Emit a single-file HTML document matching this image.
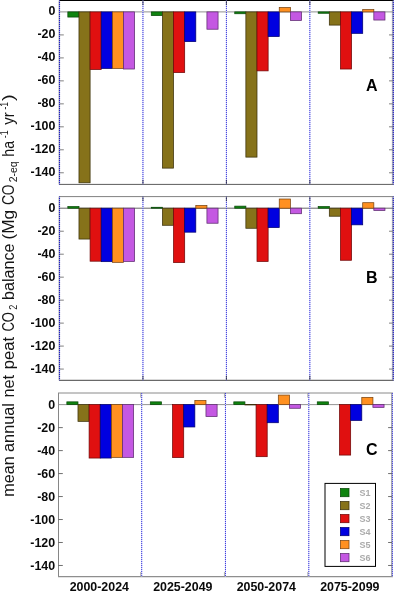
<!DOCTYPE html>
<html lang="en"><head><meta charset="utf-8"><title>Mean annual net peat CO2 balance</title>
<style>html,body{margin:0;padding:0;background:#fff}body{width:394px;height:591px;overflow:hidden}svg{display:block;will-change:transform}text{font-family:"Liberation Sans",Arial,sans-serif}</style>
</head><body>
<svg width="394" height="591" viewBox="0 0 394 591">
<rect width="394" height="591" fill="#fff"/>
<g id="panelA">
<line x1="59.1" x2="59.1" y1="0.5" y2="184.4" stroke="#a8a8a8" stroke-width="1"/>
<line x1="392.40" x2="392.40" y1="0.5" y2="184.4" stroke="#a8a8a8" stroke-width="1"/>
<line x1="59.0" x2="393.8" y1="0.5" y2="0.5" stroke="#000" stroke-width="1"/>
<line x1="59.0" x2="393.8" y1="184.4" y2="184.4" stroke="#5c5c5c" stroke-width="1"/>
<line x1="59.5" x2="393.3" y1="11.9" y2="11.9" stroke="#858585" stroke-width="0.9"/>
<text x="55.4" y="15.45" font-size="12.4" font-weight="bold" text-anchor="end" fill="#0a0a0a">0</text>
<line x1="59.5" x2="63.8" y1="34.92" y2="34.92" stroke="#6c6c6c" stroke-width="0.85"/>
<line x1="389.0" x2="393.3" y1="34.92" y2="34.92" stroke="#6c6c6c" stroke-width="0.85"/>
<text x="55.4" y="38.42" font-size="12.4" font-weight="bold" text-anchor="end" fill="#0a0a0a">-20</text>
<line x1="59.5" x2="63.8" y1="57.90" y2="57.90" stroke="#6c6c6c" stroke-width="0.85"/>
<line x1="389.0" x2="393.3" y1="57.90" y2="57.90" stroke="#6c6c6c" stroke-width="0.85"/>
<text x="55.4" y="61.40" font-size="12.4" font-weight="bold" text-anchor="end" fill="#0a0a0a">-40</text>
<line x1="59.5" x2="63.8" y1="80.87" y2="80.87" stroke="#6c6c6c" stroke-width="0.85"/>
<line x1="389.0" x2="393.3" y1="80.87" y2="80.87" stroke="#6c6c6c" stroke-width="0.85"/>
<text x="55.4" y="84.37" font-size="12.4" font-weight="bold" text-anchor="end" fill="#0a0a0a">-60</text>
<line x1="59.5" x2="63.8" y1="103.85" y2="103.85" stroke="#6c6c6c" stroke-width="0.85"/>
<line x1="389.0" x2="393.3" y1="103.85" y2="103.85" stroke="#6c6c6c" stroke-width="0.85"/>
<text x="55.4" y="107.35" font-size="12.4" font-weight="bold" text-anchor="end" fill="#0a0a0a">-80</text>
<line x1="59.5" x2="63.8" y1="126.82" y2="126.82" stroke="#6c6c6c" stroke-width="0.85"/>
<line x1="389.0" x2="393.3" y1="126.82" y2="126.82" stroke="#6c6c6c" stroke-width="0.85"/>
<text x="55.4" y="130.32" font-size="12.4" font-weight="bold" text-anchor="end" fill="#0a0a0a">-100</text>
<line x1="59.5" x2="63.8" y1="149.79" y2="149.79" stroke="#6c6c6c" stroke-width="0.85"/>
<line x1="389.0" x2="393.3" y1="149.79" y2="149.79" stroke="#6c6c6c" stroke-width="0.85"/>
<text x="55.4" y="153.29" font-size="12.4" font-weight="bold" text-anchor="end" fill="#0a0a0a">-120</text>
<line x1="59.5" x2="63.8" y1="172.77" y2="172.77" stroke="#6c6c6c" stroke-width="0.85"/>
<line x1="389.0" x2="393.3" y1="172.77" y2="172.77" stroke="#6c6c6c" stroke-width="0.85"/>
<text x="55.4" y="176.27" font-size="12.4" font-weight="bold" text-anchor="end" fill="#0a0a0a">-140</text>
<line x1="59.50" x2="59.50" y1="0.5" y2="184.4" stroke="#9c9cc4" stroke-width="1.1"/>
<line x1="59.50" x2="59.50" y1="0.5" y2="184.4" stroke="#1c1cc8" stroke-width="1.1" stroke-dasharray="1 1" stroke-dashoffset="0.50"/>
<line x1="142.95" x2="142.95" y1="0.5" y2="184.4" stroke="#d0d0fb" stroke-width="1.0"/>
<line x1="142.95" x2="142.95" y1="0.5" y2="184.4" stroke="#3838da" stroke-width="1.0" stroke-dasharray="1 1" stroke-dashoffset="0.50"/>
<line x1="226.40" x2="226.40" y1="0.5" y2="184.4" stroke="#d0d0fb" stroke-width="1.0"/>
<line x1="226.40" x2="226.40" y1="0.5" y2="184.4" stroke="#3838da" stroke-width="1.0" stroke-dasharray="1 1" stroke-dashoffset="0.50"/>
<line x1="309.85" x2="309.85" y1="0.5" y2="184.4" stroke="#d0d0fb" stroke-width="1.0"/>
<line x1="309.85" x2="309.85" y1="0.5" y2="184.4" stroke="#3838da" stroke-width="1.0" stroke-dasharray="1 1" stroke-dashoffset="0.50"/>
<line x1="393.30" x2="393.30" y1="0.5" y2="184.4" stroke="#9c9cc4" stroke-width="1.1"/>
<line x1="393.30" x2="393.30" y1="0.5" y2="184.4" stroke="#1c1cc8" stroke-width="1.1" stroke-dasharray="1 1" stroke-dashoffset="0.50"/>
<line x1="142.95" x2="142.95" y1="0.5" y2="5.1" stroke="#222" stroke-width="0.7"/>
<line x1="142.95" x2="142.95" y1="179.8" y2="184.4" stroke="#222" stroke-width="0.7"/>
<line x1="226.40" x2="226.40" y1="0.5" y2="5.1" stroke="#222" stroke-width="0.7"/>
<line x1="226.40" x2="226.40" y1="179.8" y2="184.4" stroke="#222" stroke-width="0.7"/>
<line x1="309.85" x2="309.85" y1="0.5" y2="5.1" stroke="#222" stroke-width="0.7"/>
<line x1="309.85" x2="309.85" y1="179.8" y2="184.4" stroke="#222" stroke-width="0.7"/>
<rect x="67.84" y="11.90" width="11.13" height="5.16" fill="#0f840f" stroke="#0a4a0a" stroke-width="0.75"/>
<rect x="78.97" y="11.90" width="11.13" height="170.90" fill="#86721a" stroke="#3c320c" stroke-width="0.75"/>
<rect x="90.10" y="11.90" width="11.13" height="57.58" fill="#e01010" stroke="#700808" stroke-width="0.75"/>
<rect x="101.22" y="11.90" width="11.13" height="56.55" fill="#0000e0" stroke="#000070" stroke-width="0.75"/>
<rect x="112.35" y="11.90" width="11.13" height="56.55" fill="#ff9020" stroke="#7a4410" stroke-width="0.75"/>
<rect x="123.48" y="11.90" width="11.13" height="57.12" fill="#c458e2" stroke="#5e2c70" stroke-width="0.75"/>
<rect x="151.29" y="11.90" width="11.13" height="3.67" fill="#0f840f" stroke="#0a4a0a" stroke-width="0.75"/>
<rect x="162.42" y="11.90" width="11.13" height="156.22" fill="#86721a" stroke="#3c320c" stroke-width="0.75"/>
<rect x="173.55" y="11.90" width="11.13" height="60.68" fill="#e01010" stroke="#700808" stroke-width="0.75"/>
<rect x="184.67" y="11.90" width="11.13" height="29.71" fill="#0000e0" stroke="#000070" stroke-width="0.75"/>
<rect x="206.93" y="11.90" width="11.13" height="17.32" fill="#c458e2" stroke="#5e2c70" stroke-width="0.75"/>
<rect x="234.75" y="11.90" width="11.13" height="1.84" fill="#0f840f" stroke="#0a4a0a" stroke-width="0.75"/>
<rect x="245.87" y="11.90" width="11.13" height="145.21" fill="#86721a" stroke="#3c320c" stroke-width="0.75"/>
<rect x="257.00" y="11.90" width="11.13" height="58.96" fill="#e01010" stroke="#700808" stroke-width="0.75"/>
<rect x="268.12" y="11.90" width="11.13" height="24.66" fill="#0000e0" stroke="#000070" stroke-width="0.75"/>
<rect x="279.25" y="7.54" width="11.13" height="4.36" fill="#ff9020" stroke="#7a4410" stroke-width="0.75"/>
<rect x="290.38" y="11.90" width="11.13" height="8.60" fill="#c458e2" stroke="#5e2c70" stroke-width="0.75"/>
<rect x="318.20" y="11.90" width="11.13" height="1.38" fill="#0f840f" stroke="#0a4a0a" stroke-width="0.75"/>
<rect x="329.32" y="11.90" width="11.13" height="13.19" fill="#86721a" stroke="#3c320c" stroke-width="0.75"/>
<rect x="340.45" y="11.90" width="11.13" height="57.12" fill="#e01010" stroke="#700808" stroke-width="0.75"/>
<rect x="351.58" y="11.90" width="11.13" height="21.45" fill="#0000e0" stroke="#000070" stroke-width="0.75"/>
<rect x="362.70" y="9.61" width="11.13" height="2.29" fill="#ff9020" stroke="#7a4410" stroke-width="0.75"/>
<rect x="373.83" y="11.90" width="11.13" height="8.14" fill="#c458e2" stroke="#5e2c70" stroke-width="0.75"/>
</g>
<g id="panelB">
<line x1="59.1" x2="59.1" y1="196.6" y2="380.3" stroke="#a8a8a8" stroke-width="1"/>
<line x1="392.40" x2="392.40" y1="196.6" y2="380.3" stroke="#a8a8a8" stroke-width="1"/>
<line x1="59.0" x2="393.8" y1="196.6" y2="196.6" stroke="#808080" stroke-width="1"/>
<line x1="59.0" x2="393.8" y1="380.3" y2="380.3" stroke="#444" stroke-width="1"/>
<line x1="59.5" x2="393.3" y1="208.2" y2="208.2" stroke="#555" stroke-width="0.9"/>
<text x="55.4" y="211.75" font-size="12.4" font-weight="bold" text-anchor="end" fill="#0a0a0a">0</text>
<line x1="59.5" x2="63.8" y1="231.22" y2="231.22" stroke="#6c6c6c" stroke-width="0.85"/>
<line x1="389.0" x2="393.3" y1="231.22" y2="231.22" stroke="#6c6c6c" stroke-width="0.85"/>
<text x="55.4" y="234.72" font-size="12.4" font-weight="bold" text-anchor="end" fill="#0a0a0a">-20</text>
<line x1="59.5" x2="63.8" y1="254.20" y2="254.20" stroke="#6c6c6c" stroke-width="0.85"/>
<line x1="389.0" x2="393.3" y1="254.20" y2="254.20" stroke="#6c6c6c" stroke-width="0.85"/>
<text x="55.4" y="257.70" font-size="12.4" font-weight="bold" text-anchor="end" fill="#0a0a0a">-40</text>
<line x1="59.5" x2="63.8" y1="277.17" y2="277.17" stroke="#6c6c6c" stroke-width="0.85"/>
<line x1="389.0" x2="393.3" y1="277.17" y2="277.17" stroke="#6c6c6c" stroke-width="0.85"/>
<text x="55.4" y="280.67" font-size="12.4" font-weight="bold" text-anchor="end" fill="#0a0a0a">-60</text>
<line x1="59.5" x2="63.8" y1="300.15" y2="300.15" stroke="#6c6c6c" stroke-width="0.85"/>
<line x1="389.0" x2="393.3" y1="300.15" y2="300.15" stroke="#6c6c6c" stroke-width="0.85"/>
<text x="55.4" y="303.65" font-size="12.4" font-weight="bold" text-anchor="end" fill="#0a0a0a">-80</text>
<line x1="59.5" x2="63.8" y1="323.12" y2="323.12" stroke="#6c6c6c" stroke-width="0.85"/>
<line x1="389.0" x2="393.3" y1="323.12" y2="323.12" stroke="#6c6c6c" stroke-width="0.85"/>
<text x="55.4" y="326.62" font-size="12.4" font-weight="bold" text-anchor="end" fill="#0a0a0a">-100</text>
<line x1="59.5" x2="63.8" y1="346.09" y2="346.09" stroke="#6c6c6c" stroke-width="0.85"/>
<line x1="389.0" x2="393.3" y1="346.09" y2="346.09" stroke="#6c6c6c" stroke-width="0.85"/>
<text x="55.4" y="349.59" font-size="12.4" font-weight="bold" text-anchor="end" fill="#0a0a0a">-120</text>
<line x1="59.5" x2="63.8" y1="369.07" y2="369.07" stroke="#6c6c6c" stroke-width="0.85"/>
<line x1="389.0" x2="393.3" y1="369.07" y2="369.07" stroke="#6c6c6c" stroke-width="0.85"/>
<text x="55.4" y="372.57" font-size="12.4" font-weight="bold" text-anchor="end" fill="#0a0a0a">-140</text>
<line x1="59.50" x2="59.50" y1="196.6" y2="380.3" stroke="#9c9cc4" stroke-width="1.1"/>
<line x1="59.50" x2="59.50" y1="196.6" y2="380.3" stroke="#1c1cc8" stroke-width="1.1" stroke-dasharray="1 1" stroke-dashoffset="0.60"/>
<line x1="142.95" x2="142.95" y1="196.6" y2="380.3" stroke="#d0d0fb" stroke-width="1.0"/>
<line x1="142.95" x2="142.95" y1="196.6" y2="380.3" stroke="#3838da" stroke-width="1.0" stroke-dasharray="1 1" stroke-dashoffset="0.60"/>
<line x1="226.40" x2="226.40" y1="196.6" y2="380.3" stroke="#d0d0fb" stroke-width="1.0"/>
<line x1="226.40" x2="226.40" y1="196.6" y2="380.3" stroke="#3838da" stroke-width="1.0" stroke-dasharray="1 1" stroke-dashoffset="0.60"/>
<line x1="309.85" x2="309.85" y1="196.6" y2="380.3" stroke="#d0d0fb" stroke-width="1.0"/>
<line x1="309.85" x2="309.85" y1="196.6" y2="380.3" stroke="#3838da" stroke-width="1.0" stroke-dasharray="1 1" stroke-dashoffset="0.60"/>
<line x1="393.30" x2="393.30" y1="196.6" y2="380.3" stroke="#9c9cc4" stroke-width="1.1"/>
<line x1="393.30" x2="393.30" y1="196.6" y2="380.3" stroke="#1c1cc8" stroke-width="1.1" stroke-dasharray="1 1" stroke-dashoffset="0.60"/>
<line x1="142.95" x2="142.95" y1="196.6" y2="201.2" stroke="#222" stroke-width="0.7"/>
<line x1="142.95" x2="142.95" y1="375.7" y2="380.3" stroke="#222" stroke-width="0.7"/>
<line x1="226.40" x2="226.40" y1="196.6" y2="201.2" stroke="#222" stroke-width="0.7"/>
<line x1="226.40" x2="226.40" y1="375.7" y2="380.3" stroke="#222" stroke-width="0.7"/>
<line x1="309.85" x2="309.85" y1="196.6" y2="201.2" stroke="#222" stroke-width="0.7"/>
<line x1="309.85" x2="309.85" y1="375.7" y2="380.3" stroke="#222" stroke-width="0.7"/>
<rect x="67.84" y="206.59" width="11.13" height="1.61" fill="#0f840f" stroke="#0a4a0a" stroke-width="0.75"/>
<rect x="78.97" y="208.20" width="11.13" height="30.85" fill="#86721a" stroke="#3c320c" stroke-width="0.75"/>
<rect x="90.10" y="208.20" width="11.13" height="52.99" fill="#e01010" stroke="#700808" stroke-width="0.75"/>
<rect x="101.22" y="208.20" width="11.13" height="53.45" fill="#0000e0" stroke="#000070" stroke-width="0.75"/>
<rect x="112.35" y="208.20" width="11.13" height="54.14" fill="#ff9020" stroke="#7a4410" stroke-width="0.75"/>
<rect x="123.48" y="208.20" width="11.13" height="53.22" fill="#c458e2" stroke="#5e2c70" stroke-width="0.75"/>
<rect x="151.29" y="207.28" width="11.13" height="0.92" fill="#0f840f" stroke="#0a4a0a" stroke-width="0.75"/>
<rect x="162.42" y="208.20" width="11.13" height="17.09" fill="#86721a" stroke="#3c320c" stroke-width="0.75"/>
<rect x="173.55" y="208.20" width="11.13" height="54.37" fill="#e01010" stroke="#700808" stroke-width="0.75"/>
<rect x="184.67" y="208.20" width="11.13" height="23.97" fill="#0000e0" stroke="#000070" stroke-width="0.75"/>
<rect x="195.80" y="205.45" width="11.13" height="2.75" fill="#ff9020" stroke="#7a4410" stroke-width="0.75"/>
<rect x="206.93" y="208.20" width="11.13" height="15.03" fill="#c458e2" stroke="#5e2c70" stroke-width="0.75"/>
<rect x="234.75" y="206.14" width="11.13" height="2.06" fill="#0f840f" stroke="#0a4a0a" stroke-width="0.75"/>
<rect x="245.87" y="208.20" width="11.13" height="20.07" fill="#86721a" stroke="#3c320c" stroke-width="0.75"/>
<rect x="257.00" y="208.20" width="11.13" height="53.22" fill="#e01010" stroke="#700808" stroke-width="0.75"/>
<rect x="268.12" y="208.20" width="11.13" height="19.38" fill="#0000e0" stroke="#000070" stroke-width="0.75"/>
<rect x="279.25" y="199.02" width="11.13" height="9.18" fill="#ff9020" stroke="#7a4410" stroke-width="0.75"/>
<rect x="290.38" y="208.20" width="11.13" height="5.51" fill="#c458e2" stroke="#5e2c70" stroke-width="0.75"/>
<rect x="318.20" y="206.59" width="11.13" height="1.61" fill="#0f840f" stroke="#0a4a0a" stroke-width="0.75"/>
<rect x="329.32" y="208.20" width="11.13" height="8.03" fill="#86721a" stroke="#3c320c" stroke-width="0.75"/>
<rect x="340.45" y="208.20" width="11.13" height="52.07" fill="#e01010" stroke="#700808" stroke-width="0.75"/>
<rect x="351.58" y="208.20" width="11.13" height="16.63" fill="#0000e0" stroke="#000070" stroke-width="0.75"/>
<rect x="362.70" y="202.69" width="11.13" height="5.51" fill="#ff9020" stroke="#7a4410" stroke-width="0.75"/>
<rect x="373.83" y="208.20" width="11.13" height="2.29" fill="#c458e2" stroke="#5e2c70" stroke-width="0.75"/>
</g>
<g id="panelC">
<line x1="58.5" x2="58.5" y1="393.0" y2="576.6" stroke="#868686" stroke-width="1"/>
<line x1="391.80" x2="391.80" y1="393.0" y2="576.6" stroke="#868686" stroke-width="1"/>
<line x1="58.0" x2="392.9" y1="393.0" y2="393.0" stroke="#8a8a8a" stroke-width="1"/>
<line x1="58.0" x2="392.9" y1="576.6" y2="576.6" stroke="#8e8e8e" stroke-width="1.25"/>
<line x1="58.5" x2="392.4" y1="404.6" y2="404.6" stroke="#888" stroke-width="0.9"/>
<text x="55.1" y="409.05" font-size="12.4" font-weight="bold" text-anchor="end" fill="#0a0a0a">0</text>
<line x1="58.5" x2="62.8" y1="427.62" y2="427.62" stroke="#555" stroke-width="0.85"/>
<line x1="388.10" x2="392.4" y1="427.62" y2="427.62" stroke="#555" stroke-width="0.85"/>
<text x="55.1" y="432.02" font-size="12.4" font-weight="bold" text-anchor="end" fill="#0a0a0a">-20</text>
<line x1="58.5" x2="62.8" y1="450.60" y2="450.60" stroke="#555" stroke-width="0.85"/>
<line x1="388.10" x2="392.4" y1="450.60" y2="450.60" stroke="#555" stroke-width="0.85"/>
<text x="55.1" y="455.00" font-size="12.4" font-weight="bold" text-anchor="end" fill="#0a0a0a">-40</text>
<line x1="58.5" x2="62.8" y1="473.57" y2="473.57" stroke="#555" stroke-width="0.85"/>
<line x1="388.10" x2="392.4" y1="473.57" y2="473.57" stroke="#555" stroke-width="0.85"/>
<text x="55.1" y="477.97" font-size="12.4" font-weight="bold" text-anchor="end" fill="#0a0a0a">-60</text>
<line x1="58.5" x2="62.8" y1="496.55" y2="496.55" stroke="#555" stroke-width="0.85"/>
<line x1="388.10" x2="392.4" y1="496.55" y2="496.55" stroke="#555" stroke-width="0.85"/>
<text x="55.1" y="500.95" font-size="12.4" font-weight="bold" text-anchor="end" fill="#0a0a0a">-80</text>
<line x1="58.5" x2="62.8" y1="519.52" y2="519.52" stroke="#555" stroke-width="0.85"/>
<line x1="388.10" x2="392.4" y1="519.52" y2="519.52" stroke="#555" stroke-width="0.85"/>
<text x="55.1" y="523.92" font-size="12.4" font-weight="bold" text-anchor="end" fill="#0a0a0a">-100</text>
<line x1="58.5" x2="62.8" y1="542.49" y2="542.49" stroke="#555" stroke-width="0.85"/>
<line x1="388.10" x2="392.4" y1="542.49" y2="542.49" stroke="#555" stroke-width="0.85"/>
<text x="55.1" y="546.89" font-size="12.4" font-weight="bold" text-anchor="end" fill="#0a0a0a">-120</text>
<line x1="58.5" x2="62.8" y1="565.47" y2="565.47" stroke="#555" stroke-width="0.85"/>
<line x1="388.10" x2="392.4" y1="565.47" y2="565.47" stroke="#555" stroke-width="0.85"/>
<text x="55.1" y="569.87" font-size="12.4" font-weight="bold" text-anchor="end" fill="#0a0a0a">-140</text>
<line x1="141.70" x2="141.70" y1="393.0" y2="576.6" stroke="#d0d0fb" stroke-width="1.0"/>
<line x1="141.70" x2="141.70" y1="393.0" y2="576.6" stroke="#3838da" stroke-width="1.0" stroke-dasharray="1 1" stroke-dashoffset="0.00"/>
<line x1="225.45" x2="225.45" y1="393.0" y2="576.6" stroke="#d0d0fb" stroke-width="1.0"/>
<line x1="225.45" x2="225.45" y1="393.0" y2="576.6" stroke="#3838da" stroke-width="1.0" stroke-dasharray="1 1" stroke-dashoffset="0.00"/>
<line x1="308.80" x2="308.80" y1="393.0" y2="576.6" stroke="#d0d0fb" stroke-width="1.0"/>
<line x1="308.80" x2="308.80" y1="393.0" y2="576.6" stroke="#3838da" stroke-width="1.0" stroke-dasharray="1 1" stroke-dashoffset="0.00"/>
<line x1="392.40" x2="392.40" y1="393.0" y2="576.6" stroke="#b8b8e8" stroke-width="0.9"/>
<line x1="392.40" x2="392.40" y1="393.0" y2="576.6" stroke="#3c3cd8" stroke-width="0.9" stroke-dasharray="1 1" stroke-dashoffset="0.00"/>
<line x1="140.70" x2="140.70" y1="393.0" y2="397.6" stroke="#999" stroke-width="0.8"/>
<line x1="140.70" x2="140.70" y1="572.0" y2="576.6" stroke="#999" stroke-width="0.8"/>
<line x1="224.45" x2="224.45" y1="393.0" y2="397.6" stroke="#999" stroke-width="0.8"/>
<line x1="224.45" x2="224.45" y1="572.0" y2="576.6" stroke="#999" stroke-width="0.8"/>
<line x1="307.80" x2="307.80" y1="393.0" y2="397.6" stroke="#999" stroke-width="0.8"/>
<line x1="307.80" x2="307.80" y1="572.0" y2="576.6" stroke="#999" stroke-width="0.8"/>
<rect x="66.85" y="401.85" width="11.13" height="2.75" fill="#0f840f" stroke="#0a4a0a" stroke-width="0.75"/>
<rect x="77.98" y="404.60" width="11.13" height="16.75" fill="#86721a" stroke="#3c320c" stroke-width="0.75"/>
<rect x="89.11" y="404.60" width="11.13" height="53.45" fill="#e01010" stroke="#700808" stroke-width="0.75"/>
<rect x="100.24" y="404.60" width="11.13" height="53.45" fill="#0000e0" stroke="#000070" stroke-width="0.75"/>
<rect x="111.37" y="404.60" width="11.13" height="52.76" fill="#ff9020" stroke="#7a4410" stroke-width="0.75"/>
<rect x="122.50" y="404.60" width="11.13" height="52.76" fill="#c458e2" stroke="#5e2c70" stroke-width="0.75"/>
<rect x="150.32" y="401.85" width="11.13" height="2.75" fill="#0f840f" stroke="#0a4a0a" stroke-width="0.75"/>
<rect x="172.58" y="404.60" width="11.13" height="52.99" fill="#e01010" stroke="#700808" stroke-width="0.75"/>
<rect x="183.71" y="404.60" width="11.13" height="22.37" fill="#0000e0" stroke="#000070" stroke-width="0.75"/>
<rect x="194.84" y="400.47" width="11.13" height="4.13" fill="#ff9020" stroke="#7a4410" stroke-width="0.75"/>
<rect x="205.97" y="404.60" width="11.13" height="11.93" fill="#c458e2" stroke="#5e2c70" stroke-width="0.75"/>
<rect x="233.80" y="401.85" width="11.13" height="2.75" fill="#0f840f" stroke="#0a4a0a" stroke-width="0.75"/>
<rect x="244.93" y="404.60" width="11.13" height="0.34" fill="#86721a" stroke="#3c320c" stroke-width="0.75"/>
<rect x="256.06" y="404.60" width="11.13" height="52.07" fill="#e01010" stroke="#700808" stroke-width="0.75"/>
<rect x="267.19" y="404.60" width="11.13" height="18.12" fill="#0000e0" stroke="#000070" stroke-width="0.75"/>
<rect x="278.32" y="395.08" width="11.13" height="9.52" fill="#ff9020" stroke="#7a4410" stroke-width="0.75"/>
<rect x="289.45" y="404.60" width="11.13" height="3.67" fill="#c458e2" stroke="#5e2c70" stroke-width="0.75"/>
<rect x="317.27" y="401.85" width="11.13" height="2.75" fill="#0f840f" stroke="#0a4a0a" stroke-width="0.75"/>
<rect x="339.53" y="404.60" width="11.13" height="50.47" fill="#e01010" stroke="#700808" stroke-width="0.75"/>
<rect x="350.66" y="404.60" width="11.13" height="15.83" fill="#0000e0" stroke="#000070" stroke-width="0.75"/>
<rect x="361.79" y="397.37" width="11.13" height="7.23" fill="#ff9020" stroke="#7a4410" stroke-width="0.75"/>
<rect x="372.92" y="404.60" width="11.13" height="2.75" fill="#c458e2" stroke="#5e2c70" stroke-width="0.75"/>
</g>
<text x="371.8" y="91.0" font-size="16" font-weight="bold" text-anchor="middle" fill="#000">A</text>
<text x="371.8" y="282.6" font-size="16" font-weight="bold" text-anchor="middle" fill="#000">B</text>
<text x="371.8" y="454.7" font-size="16" font-weight="bold" text-anchor="middle" fill="#000">C</text>
<text x="99.3" y="591" font-size="12.4" font-weight="bold" text-anchor="middle" fill="#0a0a0a">2000-2024</text>
<text x="182.8" y="591" font-size="12.4" font-weight="bold" text-anchor="middle" fill="#0a0a0a">2025-2049</text>
<text x="266.3" y="591" font-size="12.4" font-weight="bold" text-anchor="middle" fill="#0a0a0a">2050-2074</text>
<text x="349.8" y="591" font-size="12.4" font-weight="bold" text-anchor="middle" fill="#0a0a0a">2075-2099</text>
<rect x="325.0" y="483.4" width="50.5" height="83" fill="#fff" stroke="#000" stroke-width="1"/>
<rect x="340.4" y="488.5" width="8.6" height="8.2" fill="#0f840f" stroke="#0a4a0a" stroke-width="0.75"/>
<text x="359.6" y="496.2" font-size="9" font-weight="bold" fill="#ababab">S1</text>
<rect x="340.4" y="501.5" width="8.6" height="8.2" fill="#86721a" stroke="#3c320c" stroke-width="0.75"/>
<text x="359.6" y="509.2" font-size="9" font-weight="bold" fill="#ababab">S2</text>
<rect x="340.4" y="514.5" width="8.6" height="8.2" fill="#e01010" stroke="#700808" stroke-width="0.75"/>
<text x="359.6" y="522.2" font-size="9" font-weight="bold" fill="#ababab">S3</text>
<rect x="340.4" y="527.5" width="8.6" height="8.2" fill="#0000e0" stroke="#000070" stroke-width="0.75"/>
<text x="359.6" y="535.2" font-size="9" font-weight="bold" fill="#ababab">S4</text>
<rect x="340.4" y="540.5" width="8.6" height="8.2" fill="#ff9020" stroke="#7a4410" stroke-width="0.75"/>
<text x="359.6" y="548.2" font-size="9" font-weight="bold" fill="#ababab">S5</text>
<rect x="340.4" y="553.5" width="8.6" height="8.2" fill="#c458e2" stroke="#5e2c70" stroke-width="0.75"/>
<text x="359.6" y="561.2" font-size="9" font-weight="bold" fill="#ababab">S6</text>
<g id="ylabel" fill="#151515">
<text transform="translate(13.5,496.79) rotate(-90)" font-size="15.6" textLength="40.49" lengthAdjust="spacingAndGlyphs">mean</text>
<text transform="translate(13.5,451.93) rotate(-90)" font-size="15.6" textLength="48.81" lengthAdjust="spacingAndGlyphs">annual</text>
<text transform="translate(13.5,397.60) rotate(-90)" font-size="15.6" textLength="22.75" lengthAdjust="spacingAndGlyphs">net</text>
<text transform="translate(13.5,369.32) rotate(-90)" font-size="15.6" textLength="32.38" lengthAdjust="spacingAndGlyphs">peat</text>
<text transform="translate(13.5,331.57) rotate(-90)" font-size="15.6" textLength="19.47" lengthAdjust="spacingAndGlyphs">CO</text>
<text transform="translate(17.3,309.81) rotate(-90)" font-size="10" textLength="5.07" lengthAdjust="spacingAndGlyphs">2</text>
<text transform="translate(13.5,299.98) rotate(-90)" font-size="15.6" textLength="56.48" lengthAdjust="spacingAndGlyphs">balance</text>
<text transform="translate(13.5,239.45) rotate(-90)" font-size="15.6" textLength="29.63" lengthAdjust="spacingAndGlyphs">(Mg</text>
<text transform="translate(13.5,205.12) rotate(-90)" font-size="15.6" textLength="20.76" lengthAdjust="spacingAndGlyphs">CO</text>
<text transform="translate(17.3,182.37) rotate(-90)" font-size="10" textLength="20.92" lengthAdjust="spacingAndGlyphs">2-eq</text>
<text transform="translate(13.5,156.65) rotate(-90)" font-size="15.6" textLength="15.70" lengthAdjust="spacingAndGlyphs">ha</text>
<text transform="translate(8.0,138.19) rotate(-90)" font-size="10" textLength="7.90" lengthAdjust="spacingAndGlyphs">-1</text>
<text transform="translate(13.5,124.65) rotate(-90)" font-size="15.6" textLength="12.44" lengthAdjust="spacingAndGlyphs">yr</text>
<text transform="translate(8.0,109.47) rotate(-90)" font-size="10" textLength="7.57" lengthAdjust="spacingAndGlyphs">-1</text>
<text transform="translate(13.5,100.88) rotate(-90)" font-size="15.6" textLength="6.76" lengthAdjust="spacingAndGlyphs">)</text>
</g>
</svg>
</body></html>
